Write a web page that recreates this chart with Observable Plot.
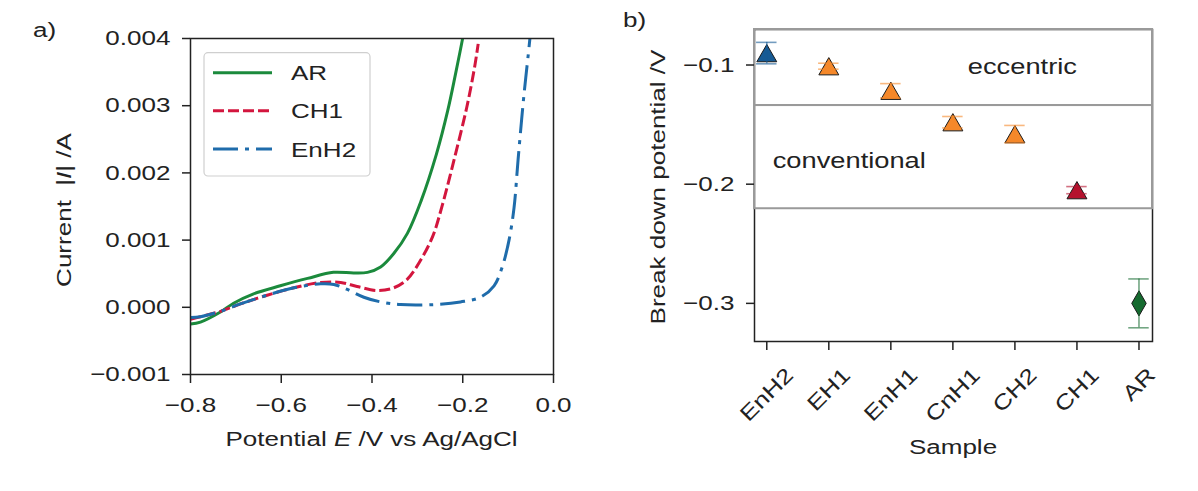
<!DOCTYPE html>
<html><head><meta charset="utf-8">
<script src="https://cdn.jsdelivr.net/npm/d3@7"></script>
<script src="https://cdn.jsdelivr.net/npm/@observablehq/plot@0.6"></script>
<style>
body{margin:0;background:#fff;}
#wrap{position:relative;width:1198px;height:491px;background:#fff;overflow:hidden;}
#wrap svg{position:absolute;top:0;overflow:visible;}
</style></head><body><div id="wrap"></div>
<script>
const FONT = "'Liberation Sans', Arial, Helvetica, sans-serif";
const STRETCH = 1.24;
const INK = "#222";

// ---------- panel a) data ----------
const seriesNames = ["AR", "CH1", "EnH2"];
const potentialAR = [-0.8, -0.778, -0.734, -0.705, -0.661, -0.602, -0.542, -0.485, -0.44, -0.41, -0.381, -0.352, -0.322, -0.292, -0.258, -0.233, -0.216, -0.2, -0.19];
const currentAR   = [-0.00025, -0.00022, -0.00007, 0.00006, 0.0002, 0.00032, 0.00043, 0.00052, 0.00051, 0.00052, 0.0006, 0.0008, 0.0011, 0.00158, 0.00228, 0.00293, 0.00347, 0.00401, 0.0044];
const potentialCH1 = [-0.8, -0.778, -0.734, -0.69, -0.631, -0.572, -0.513, -0.469, -0.433, -0.388, -0.352, -0.322, -0.293, -0.266, -0.245, -0.216, -0.191, -0.174, -0.166];
const currentCH1   = [-0.00018, -0.00014, -0.00006, 0.00005, 0.00018, 0.00029, 0.00037, 0.00037, 0.00031, 0.00025, 0.00029, 0.00042, 0.0007, 0.00106, 0.00152, 0.00228, 0.00298, 0.00357, 0.00392];
const potentialEnH2 = [-0.8, -0.778, -0.734, -0.69, -0.631, -0.572, -0.513, -0.484, -0.456, -0.418, -0.381, -0.337, -0.264, -0.205, -0.161, -0.131, -0.113, -0.098, -0.087, -0.078, -0.066, -0.052, -0.047];
const currentEnH2   = [-0.00015, -0.00014, -0.00006, 0.00005, 0.00018, 0.00029, 0.00035, 0.00034, 0.00027, 0.00015, 0.00008, 0.00004, 0.00004, 0.00008, 0.00015, 0.00032, 0.0006, 0.001, 0.00148, 0.0022, 0.0031, 0.004, 0.0044];
const seriesColors = ["#1b8a3c", "#d3163e", "#1f6cab"];
const seriesDash = [null, "11,4", "25,7,4,7"];
const xTicksA = [-0.8, -0.6, -0.4, -0.2, 0];
const yTicksA = [-0.001, 0, 0.001, 0.002, 0.003, 0.004];

// ---------- panel b) data ----------
const samples = ["EnH2", "EH1", "EnH1", "CnH1", "CH2", "CH1", "AR"];
const breakdown = [-0.090, -0.101, -0.1216, -0.148, -0.158, -0.205, -0.300];
const breakdownErr = [0.009, 0.0025, 0.006, 0.0048, 0.0073, 0.003, 0.0205];
const markerColors = ["#165a94", "#f5882a", "#f5882a", "#f5882a", "#f5882a", "#b5122e", "#166b30"];
const markerSymbols = ["triangle", "triangle", "triangle", "triangle", "triangle", "triangle", "diamond"];
const yDomainB = [-0.332, -0.0702];
const xDomainB = [-0.198, 6.218];
const regionBounds = [-0.2206, -0.134];
const regionLabels = ["eccentric", "conventional"];
const regionLabelX = [4.12, 1.33];
const regionLabelY = [-0.1013, -0.1807];
const yTicksB = [-0.3, -0.2, -0.1];
const capHalf = 0.165;

const wrap = document.getElementById("wrap");
const fmt1 = d3.format(".1f"), fmt3 = d3.format(".3f");

// ---------- panel a ----------
const potentials = [potentialAR, potentialCH1, potentialEnH2];
const currents = [currentAR, currentCH1, currentEnH2];
const rowsA = [];
seriesNames.forEach((s, k) => potentials[k].forEach((e, j) => rowsA.push({series: s, E: e, I: currents[k][j]})));

const plotA = Plot.plot({
  width: 600, height: 491,
  marginLeft: 190, marginRight: 47, marginTop: 38, marginBottom: 117,
  style: {fontFamily: FONT, fontSize: "21px", color: INK, background: "transparent", overflow: "visible"},
  x: {domain: [-0.8, 0]},
  y: {domain: [-0.001, 0.004]},
  marks: [
    ...seriesNames.map((s, k) => Plot.line(rowsA.filter(d => d.series === s), {
      x: "E", y: "I", stroke: seriesColors[k], strokeWidth: 3, strokeDasharray: seriesDash[k],
      strokeLinecap: "butt", curve: "catmull-rom", clip: true
    })),
    Plot.frame({stroke: INK, strokeWidth: 1.5}),
    Plot.axisX({ticks: xTicksA, tickFormat: fmt1, tickSize: 9, tickPadding: 14, label: null, stroke: INK, strokeWidth: 1.5, fill: INK}),
    Plot.axisY({ticks: yTicksA, tickFormat: fmt3, tickSize: 8, tickPadding: 12, label: null, stroke: INK, strokeWidth: 1.5, fill: INK})
  ]
});
plotA.style.left = "0px";
wrap.appendChild(plotA);

// ---------- panel b ----------
const pointsB = samples.map((s, i) => ({i, sample: s, v: breakdown[i], e: breakdownErr[i], color: markerColors[i], symbol: markerSymbols[i]}));
const capsB = pointsB.flatMap(d => [d.v - d.e, d.v + d.e].map(y => ({y, x1: d.i - capHalf, x2: d.i + capHalf, color: d.color})));
const regionsB = [{y1: regionBounds[0], y2: regionBounds[1]}, {y1: regionBounds[1], y2: yDomainB[1]}];
const labelsB = regionLabels.map((t, k) => ({t, x: regionLabelX[k], y: regionLabelY[k]}));

const ctx = document.createElement("canvas").getContext("2d");
ctx.font = "21px 'Liberation Sans'";

const plotB = Plot.plot({
  width: 598, height: 491,
  marginLeft: 154, marginRight: 46, marginTop: 29, marginBottom: 150,
  style: {fontFamily: FONT, fontSize: "21px", color: INK, background: "transparent", overflow: "visible"},
  x: {domain: xDomainB},
  y: {domain: yDomainB},
  marks: [
    Plot.frame({stroke: INK, strokeWidth: 1.5}),
    Plot.rect(regionsB, {y1: "y1", y2: "y2", fill: "none", stroke: "#9a9a9a", strokeWidth: 2}),
    Plot.dot(pointsB.filter(d => d.symbol === "triangle"), {x: "i", y: "v", symbol: "triangle", r: 7.4, dy: 2.9, fill: "color", stroke: "#1a1a1a", strokeWidth: 1}),
    Plot.dot(pointsB.filter(d => d.symbol === "diamond"), {x: "i", y: "v", symbol: "diamond", r: 7.6, fill: "color", stroke: "#1a1a1a", strokeWidth: 1}),
    Plot.ruleX(pointsB, {x: "i", y1: d => d.v - d.e, y2: d => d.v + d.e, stroke: "color", strokeOpacity: 0.6, strokeWidth: 1.6}),
    Plot.ruleY(capsB, {y: "y", x1: "x1", x2: "x2", stroke: "color", strokeOpacity: 0.6, strokeWidth: 1.6}),
    Plot.text(labelsB, {x: "x", y: "y", text: "t", fontSize: 22, textAnchor: "middle", lineAnchor: "middle", fill: INK}),
    Plot.axisX({ticks: samples.map((s, i) => i), tickFormat: () => "", tickSize: 9, label: null, stroke: INK, strokeWidth: 1.5}),
    Plot.axisY({ticks: yTicksB, tickFormat: fmt1, tickSize: 8, tickPadding: 12, label: null, stroke: INK, strokeWidth: 1.5, fill: INK}),
    ...samples.map((s, i) => {
      const w = ctx.measureText(s).width * STRETCH;
      const side = (w + 15) * Math.SQRT1_2;
      return Plot.text([i], {x: d => d, text: () => s, frameAnchor: "bottom", rotate: -45, textAnchor: "middle", lineAnchor: "middle", dy: 25 + side / 2, fill: INK});
    })
  ]
});
plotB.style.left = "600px";
wrap.appendChild(plotB);

// stretch all Plot-generated text horizontally along its own direction
function stretchText(svg) {
  d3.select(svg).selectAll("text").each(function() {
    const t = this.getAttribute("transform") || "";
    this.setAttribute("transform", t + ` scale(${STRETCH},1)`);
  });
}
stretchText(plotA);
stretchText(plotB);

function addText(svg, x, y, parts, {rotate = 0, anchor = "middle", size = 21} = {}) {
  const t = d3.select(svg).append("text")
    .attr("transform", `translate(${x},${y}) rotate(${rotate}) scale(${STRETCH},1)`)
    .attr("text-anchor", anchor).attr("font-size", size).attr("fill", INK)
    .attr("font-family", FONT).style("white-space", "pre");
  parts.forEach(p => t.append("tspan").text(p[0]).attr("font-style", p[1] ? "italic" : null));
}

// panel a labels
addText(plotA, 33, 37, [["a)"]], {anchor: "start"});
addText(plotA, 371.5, 445.5, [["Potential "], ["E", true], [" /V vs Ag/AgCl"]]);
addText(plotA, 71, 210, [["Current  |"], ["I", true], ["| /A"]], {rotate: -90});

// legend
const lg = d3.select(plotA).append("g");
lg.append("rect").attr("x", 204).attr("y", 52.7).attr("width", 166).attr("height", 123.3).attr("rx", 4)
  .attr("fill", "white").attr("fill-opacity", 0.85).attr("stroke", "#cfcfcf").attr("stroke-width", 1.2);
const legendY = [72.7, 110.7, 149];
seriesNames.forEach((s, k) => {
  lg.append("line").attr("x1", 213).attr("x2", 272).attr("y1", legendY[k]).attr("y2", legendY[k])
    .attr("stroke", seriesColors[k]).attr("stroke-width", 3).attr("stroke-dasharray", seriesDash[k]);
  addText(plotA, 291, legendY[k] + 7.5, [[s]], {anchor: "start"});
});

// panel b labels
addText(plotB, 23, 27, [["b)"]], {anchor: "start"});
addText(plotB, 353, 454, [["Sample"]]);
addText(plotB, 65, 187, [["Break down potential /V"]], {rotate: -90});
</script></body></html>
